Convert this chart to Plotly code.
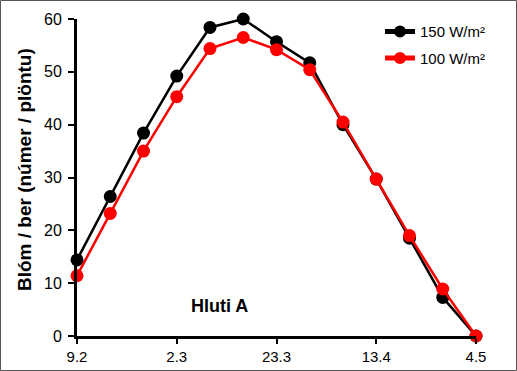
import plotly.graph_objects as go

dates = ["9.2", "16.2", "23.2", "2.3", "9.3", "16.3", "23.3", "30.3",
         "6.4", "13.4", "20.4", "27.4", "4.5"]
tick_labels = ["9.2", "2.3", "23.3", "13.4", "4.5"]
s150 = [14.4, 26.4, 38.4, 49.2, 58.4, 60.0, 55.7, 51.7, 40.0, 29.7, 18.5, 7.3, 0]
s100 = [11.4, 23.2, 35.0, 45.3, 54.4, 56.5, 54.2, 50.4, 40.5, 29.7, 19.0, 8.9, 0]

W, H = 517, 371
L, R, T, B = 77, 41, 19, 35
pw, ph = W - L - R, H - T - B

fig = go.Figure()
fig.add_trace(go.Scatter(x=dates, y=s150, name="150 W/m²", mode="lines+markers",
                         line=dict(color="black", width=2.5),
                         marker=dict(color="black", size=13), cliponaxis=False,
                         legend="legend"))
fig.add_trace(go.Scatter(x=dates, y=s100, name="100 W/m²", mode="lines+markers",
                         line=dict(color="#ff0000", width=2.5),
                         marker=dict(color="#ff0000", size=13), cliponaxis=False,
                         legend="legend2"))

leg_common = dict(xanchor="left", yanchor="middle", font=dict(size=15),
                  bgcolor="rgba(0,0,0,0)", itemsizing="constant", itemwidth=30)

fig.update_layout(
    width=W, height=H,
    margin=dict(l=L, r=R, t=T, b=B, autoexpand=False),
    plot_bgcolor="white", paper_bgcolor="white",
    font=dict(family="Liberation Sans, Arial", size=15, color="black"),
    showlegend=True,
    legend=dict(x=(380 - L) / pw, y=(336 - 31.7) / ph, **leg_common),
    legend2=dict(x=(380 - L) / pw, y=(336 - 58.3) / ph, **leg_common),
    xaxis=dict(type="category", range=[0, len(dates) - 1],
               tickvals=tick_labels, ticktext=tick_labels, automargin=False,
               showline=True, linecolor="black", linewidth=3,
               ticks="outside", ticklen=5, tickwidth=2, tickcolor="black",
               showgrid=False, zeroline=False, tickfont=dict(size=15)),
    yaxis=dict(range=[0, 60], dtick=10, automargin=False,
               showline=True, linecolor="black", linewidth=3,
               ticks="outside", ticklen=6, tickwidth=2, tickcolor="black",
               ticklabelstandoff=3,
               showgrid=False, zeroline=False, tickfont=dict(size=16)),
    annotations=[
        dict(text="<b>Blóm / ber (númer / plöntu)</b>", textangle=-90,
             xref="paper", yref="paper", x=(24 - L) / pw, y=(336 - 170) / ph,
             showarrow=False, font=dict(size=19), xanchor="center", yanchor="middle"),
        dict(text="<b>Hluti A</b>", xref="paper", yref="paper",
             x=(219 - L) / pw, y=(336 - 306) / ph, showarrow=False,
             font=dict(size=18), xanchor="center", yanchor="middle"),
    ],
    shapes=[dict(type="rect", xref="paper", yref="paper",
                 x0=(0.5 - L) / pw, x1=(W - 0.5 - L) / pw,
                 y0=-(B - 0.5) / ph, y1=1 + (T - 0.5) / ph,
                 line=dict(color="#555555", width=1))],
)

post = "document.body.style.margin='0';"
fig.write_html("out.html", post_script=post, config={"displayModeBar": False})
